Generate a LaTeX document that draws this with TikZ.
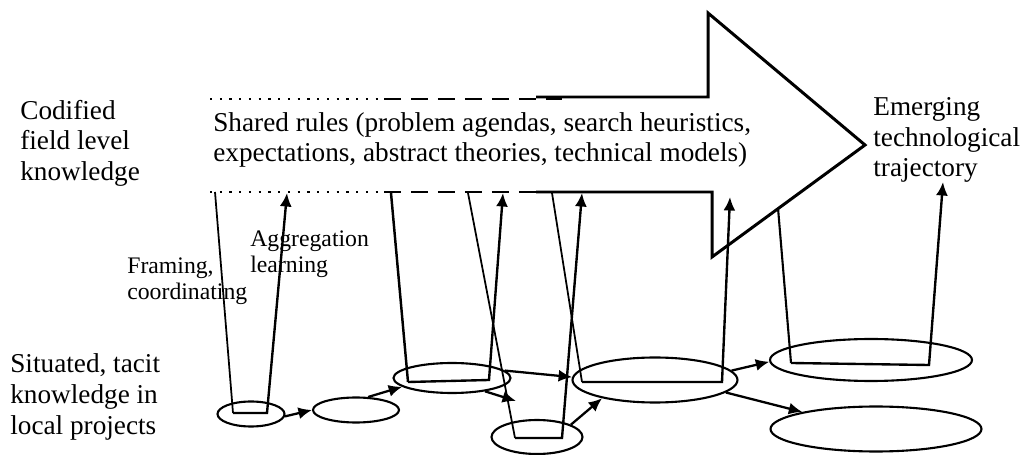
\documentclass[tikz,border=0pt]{standalone}
\usepackage{fontspec}
\setmainfont{Liberation Serif}
\usepackage{tikz}
\usetikzlibrary{arrows.meta,shapes.geometric}

\begin{document}
\begin{tikzpicture}[
  x=0.02cm, y=-0.02cm,
  label/.style={inner sep=0pt, align=left, anchor=west, font=\fontsize{15.5}{17.4}\selectfont},
  small/.style={inner sep=0pt, align=left, anchor=west, font=\fontsize{13.5}{14.8}\selectfont},
  project/.style={draw, ellipse, inner sep=0pt, line width=1.2pt},
  band/.style={line width=1.7pt},
  down/.style={line width=1.0pt},
  up/.style={line width=1.35pt, -{Latex[length=0.27cm,width=0.24cm]}},
  arrow/.style={line width=1.3pt, -{Latex[length=0.27cm,width=0.24cm]}}
]
\useasboundingbox (0,0) rectangle (1027,455);

% texts
\node[label] (codified) at (20,143) {Codified\\field level\\knowledge};
\node[label] (shared) at (213,140) {Shared rules (problem agendas, search heuristics,\\expectations, abstract theories, technical models)};
\node[label] (emerging) at (873,140) {Emerging\\technological\\trajectory};
\node[label] (situated) at (10,397) {Situated, tacit\\knowledge in\\local projects};
\node[small] (framing) at (127,281) {Framing,\\coordinating};
\node[small] (aggregation) at (250,254) {Aggregation\\learning};

% the big arrow of shared rules
\draw[band, line join=miter] (536,97) -- (708,97) -- (708,13) -- (865,145) -- (712,257) -- (712,192) -- (536,192);
\draw[band, dash pattern=on 0.34cm off 0.2cm] (384,99) -- (562,99);
\draw[band, dash pattern=on 0.34cm off 0.2cm] (384,192) -- (562,192);
\draw[line width=1.3pt, dash pattern=on 0.045cm off 0.15cm] (210,99) -- (384,99);
\draw[line width=1.3pt, dash pattern=on 0.045cm off 0.15cm] (210,192) -- (384,192);

% local projects
\node[project, minimum width=1.34cm, minimum height=0.5cm] (p1) at (251,414) {};
\node[project, minimum width=1.72cm, minimum height=0.5cm] (p2) at (356,410) {};
\node[project, minimum width=2.34cm, minimum height=0.6cm] (p3) at (452,378) {};
\node[project, minimum width=1.82cm, minimum height=0.68cm] (p4) at (537,437) {};
\node[project, minimum width=3.3cm, minimum height=0.9cm] (p5) at (655,380) {};
\node[project, minimum width=4.04cm, minimum height=0.84cm] (p6) at (871,360) {};
\node[project, minimum width=4.22cm, minimum height=0.9cm] (p7) at (876,429) {};
\coordinate (p4in) at (516,401);

% framing down, aggregation up
\coordinate (f1) at (215,192);
\coordinate (b1l) at (233,413);
\coordinate (b1r) at (267,413);
\coordinate (a1) at (287,193);
\draw[down] (f1) -- (b1l);
\draw[up] (b1l) -- (b1r) -- (a1);

\coordinate (f3) at (391,193);
\coordinate (b3l) at (408,382);
\coordinate (b3r) at (489,380);
\coordinate (a3) at (503,193);
\draw[down, line width=1.4pt] (f3) -- (b3l);
\draw[up] (b3l) -- (b3r) -- (a3);

\coordinate (f4) at (468,193);
\coordinate (b4l) at (515,438);
\coordinate (b4r) at (562,438);
\coordinate (a4) at (582,193);
\draw[down] (f4) -- (b4l);
\draw[up] (b4l) -- (b4r) -- (a4);

\coordinate (f5) at (552,193);
\coordinate (b5l) at (582,382);
\coordinate (b5r) at (722,382);
\coordinate (a5) at (730,197);
\draw[down] (f5) -- (b5l);
\draw[up] (b5l) -- (b5r) -- (a5);

\coordinate (f6) at (778,208);
\coordinate (b6l) at (791,363);
\coordinate (b6r) at (929,365);
\coordinate (a6) at (943,182);
\draw[down, line width=1.2pt] (f6) -- (b6l);
\draw[up] (b6l) -- (b6r) -- (a6);

% links between projects
\draw[arrow] (p1.-4) -- (p2.180);
\draw[arrow] (p2.47) -- (p3.190);
\draw[arrow] (p3.-22) -- (p4in);
\draw[arrow] (p3.8) -- (p5.178);
\draw[arrow] (p4.20) -- (p5.199);
\draw[arrow] (p5.7) -- (p6.181);
\draw[arrow] (p5.-10) -- (p7.167);
\end{tikzpicture}
\end{document}
